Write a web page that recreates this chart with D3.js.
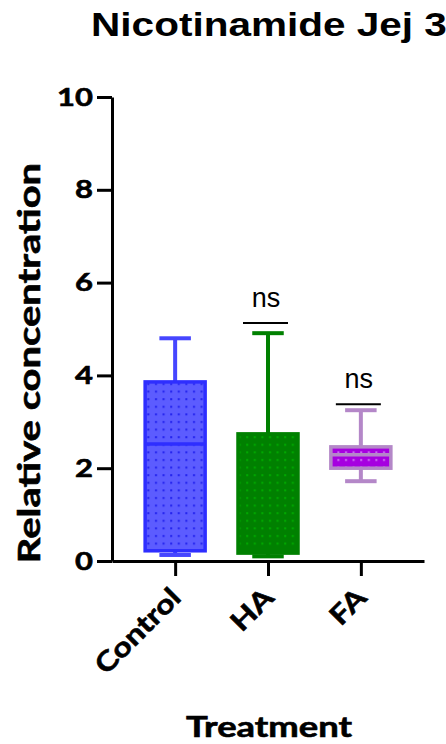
<!DOCTYPE html>
<html>
<head>
<meta charset="utf-8">
<script src="https://cdn.jsdelivr.net/npm/d3@7"></script>
<style>
  body { margin: 0; background: #fff; }
  svg { display: block; }
  .lab { font-family: Lato, sans-serif; font-weight: bold; fill: #000; stroke: #000; stroke-width: 0.6px; }
</style>
</head>
<body>
<svg width="446" height="744"></svg>
<script>
// groups and their box stats
var groups   = ["Control", "HA", "FA"];
var mins     = [0.13, 0.10, 1.72];
var q1s      = [0.22, 0.17, 2.00];
var medians  = [2.52, 0.20, 2.29];
var q3s      = [3.86, 2.74, 2.46];
var maxs     = [4.80, 4.91, 3.25];
var yTicks   = [0, 2, 4, 6, 8, 10];

// significance marks: group, line height, label
var sigGroups = ["HA", "FA"];
var sigLevels = [5.13, 3.38];
var sigLabels = ["ns", "ns"];

var fills   = ["#5c5cff", "#008000", "#a600e0"];
var dots    = ["#2222ee", "#00aa00", "#cf6ff5"];
var strokes = ["#2e2eff", "#008000", "#b487c8"];
var whisk   = ["#4646ff", "#008000", "#b487c8"];

var svg = d3.select("svg");

var y = d3.scaleLinear().domain([0, 10]).range([561, 97]);
var x = d3.scalePoint().domain(groups).range([112, 424]).padding(0.68);
var boxW = 63;

// the picture's lettering is a bit wider than the installed fonts
function place(sel, tx, ty, rot, sx) {
    sel.attr("transform", "translate(" + tx + "," + ty + ") rotate(" + rot + ") scale(" + sx + ",1)");
}

// dotted fill patterns
var defs = svg.append("defs");
groups.forEach(function(g, i) {
    var p = defs.append("pattern")
        .attr("id", "pat" + i)
        .attr("patternUnits", "userSpaceOnUse")
        .attr("width", 7.6).attr("height", 7.6);
    p.append("rect").attr("width", 7.6).attr("height", 7.6).attr("fill", fills[i]);
    p.append("rect").attr("x", 3).attr("y", 3).attr("width", 2).attr("height", 2).attr("fill", dots[i]);
});

// title
svg.append("text")
    .attr("text-anchor", "middle")
    .style("font-family", "Liberation Sans, Arial, sans-serif")
    .style("font-weight", "bold")
    .style("font-size", "33.5px")
    .text("Nicotinamide Jej 3")
    .call(place, 269, 36, 0, 1.21);

// boxes
var data = groups.map(function(g, i) {
    return { g: g, i: i, min: mins[i], q1: q1s[i], med: medians[i], q3: q3s[i], max: maxs[i] };
});

var box = svg.append("g").selectAll("g")
    .data(data).enter().append("g");

// whiskers
box.append("line")
    .attr("x1", function(d) { return x(d.g); })
    .attr("x2", function(d) { return x(d.g); })
    .attr("y1", function(d) { return y(d.max); })
    .attr("y2", function(d) { return y(d.q3); })
    .attr("stroke", function(d) { return whisk[d.i]; })
    .attr("stroke-width", 4);
box.append("line")
    .attr("x1", function(d) { return x(d.g); })
    .attr("x2", function(d) { return x(d.g); })
    .attr("y1", function(d) { return y(d.min); })
    .attr("y2", function(d) { return y(d.q1); })
    .attr("stroke", function(d) { return whisk[d.i]; })
    .attr("stroke-width", 4);
// caps
["max", "min"].forEach(function(k) {
    box.append("line")
        .attr("x1", function(d) { return x(d.g) - boxW / 4; })
        .attr("x2", function(d) { return x(d.g) + boxW / 4; })
        .attr("y1", function(d) { return y(d[k]); })
        .attr("y2", function(d) { return y(d[k]); })
        .attr("stroke", function(d) { return whisk[d.i]; })
        .attr("stroke-width", 4);
});

box.append("rect")
    .attr("x", function(d) { return x(d.g) - boxW / 2 + 1.5; })
    .attr("width", boxW - 3)
    .attr("y", function(d) { return y(d.q3); })
    .attr("height", function(d) { return y(d.q1) - y(d.q3); })
    .attr("fill", function(d) { return "url(#pat" + d.i + ")"; })
    .attr("stroke", function(d) { return strokes[d.i]; })
    .attr("stroke-width", 3.5);

box.append("line")
    .attr("x1", function(d) { return x(d.g) - boxW / 2 + 1.5; })
    .attr("x2", function(d) { return x(d.g) + boxW / 2 - 1.5; })
    .attr("y1", function(d) { return y(d.med); })
    .attr("y2", function(d) { return y(d.med); })
    .attr("stroke", function(d) { return strokes[d.i]; })
    .attr("stroke-width", 3.5);

// significance labels
sigGroups.forEach(function(g, i) {
    svg.append("line")
        .attr("x1", x(g) - 25).attr("x2", x(g) + 20)
        .attr("y1", y(sigLevels[i])).attr("y2", y(sigLevels[i]))
        .attr("stroke", "#000").attr("stroke-width", 2);
    svg.append("text")
        .attr("x", x(g) - 2).attr("y", y(sigLevels[i]) - 16)
        .attr("text-anchor", "middle")
        .style("font-family", "Liberation Sans, Arial, sans-serif")
        .style("font-size", "27px")
        .text(sigLabels[i]);
});

// axes
var yAxis = svg.append("g")
    .attr("transform", "translate(112,0)")
    .call(d3.axisLeft(y).tickValues(yTicks).tickSize(15).tickSizeOuter(0));
var xAxis = svg.append("g")
    .attr("transform", "translate(0,561)")
    .call(d3.axisBottom(x).tickSize(15).tickSizeOuter(0).tickFormat(""));

[yAxis, xAxis].forEach(function(a) {
    a.select(".domain").attr("stroke", "#000").attr("stroke-width", 3);
    a.selectAll(".tick line").attr("stroke", "#000").attr("stroke-width", 3);
});
yAxis.selectAll(".tick text")
    .attr("x", 0)
    .attr("class", "lab")
    .style("font-size", "25px")
    .call(place, -19, 0, 0, 1.24);

// rotated category labels
svg.append("g").selectAll("text")
    .data(groups).enter().append("text")
    .attr("class", "lab")
    .attr("text-anchor", "end")
    .attr("dy", "0.7em")
    .style("font-size", "27px")
    .text(function(d) { return d; })
    .each(function(d) { d3.select(this).call(place, x(d) - 6, 586, -45, 1.2); });

// axis titles
svg.append("text")
    .attr("class", "lab")
    .attr("text-anchor", "middle")
    .style("font-size", "30.5px")
    .text("Relative concentration")
    .call(place, 40, 363, -90, 1.31);

svg.append("text")
    .attr("class", "lab")
    .attr("text-anchor", "middle")
    .style("font-size", "28px")
    .text("Treatment")
    .call(place, 269, 737, 0, 1.3);
</script>
</body>
</html>
